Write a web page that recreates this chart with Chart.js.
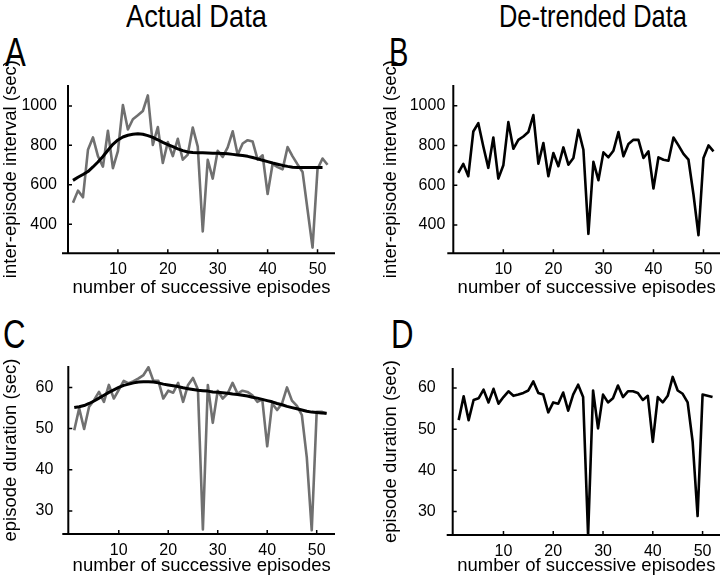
<!DOCTYPE html>
<html><head><meta charset="utf-8">
<script src="https://cdn.jsdelivr.net/npm/chart.js@4/dist/chart.umd.min.js"></script>
<style>
html,body{margin:0;padding:0;background:#fff;width:720px;height:583px;overflow:hidden;position:relative}
canvas{position:absolute}
.t{position:absolute;white-space:nowrap;color:#000;font-family:"Liberation Sans",Arial,sans-serif;line-height:1;transform-origin:left top}
</style></head><body>
<div class="t" style="left:125.5px;top:0px;font-size:32px;transform:scaleX(0.852)">Actual Data</div>
<div class="t" style="left:499px;top:0px;font-size:32px;transform:scaleX(0.794)">De-trended Data</div>
<div class="t" style="left:4.5px;top:31.5px;font-size:41px;transform:scaleX(0.76)">A</div>
<div class="t" style="left:389px;top:31.5px;font-size:41px;transform:scaleX(0.71)">B</div>
<div class="t" style="left:3px;top:313.5px;font-size:41px;transform:scaleX(0.76)">C</div>
<div class="t" style="left:391px;top:313.5px;font-size:41px;transform:scaleX(0.76)">D</div>
<canvas id="cA" width="345" height="265" style="left:0;top:40px"></canvas>
<canvas id="cB" width="340" height="265" style="left:380px;top:40px"></canvas>
<canvas id="cC" width="345" height="263" style="left:0;top:320px"></canvas>
<canvas id="cD" width="340" height="263" style="left:380px;top:320px"></canvas>
<script>
const episodes = [1,2,3,4,5,6,7,8,9,10,11,12,13,14,15,16,17,18,19,20,21,22,23,24,25,26,27,28,29,30,31,32,33,34,35,36,37,38,39,40,41,42,43,44,45,46,47,48,49,50,51,52];
const xTicks = [10,20,30,40,50];
const intervalTicks = [400,600,800,1000];
const durationTicks = [30,40,50,60];
const xTitle = 'number of successive episodes';
const intervalTitle = 'inter-episode interval (sec)';
const durationTitle = 'episode duration (sec)';

const intervalActual = [508,570,536,777,840,745,692,874,684,770,1004,880,932,952,974,1053,802,893,710,817,745,833,727,753,890,793,363,726,631,772,741,789,871,752,809,826,819,727,749,553,706,689,678,791,744,703,665,473,281,680,733,701];
const intervalTrend = [622,638,652,667,690,715,743,775,805,827,842,851,856,859,856,849,840,828,815,804,793,782,773,766,763,762,762,761,760,760,759,757,754,751,748,744,738,731,724,717,710,704,698,693,689,688,687,687,687,687,687];
const intervalDetrended = [662,707,645,870,912,795,687,840,633,700,917,783,828,845,867,953,708,812,645,762,695,790,703,737,878,778,355,717,625,765,740,773,867,745,807,828,828,737,770,583,740,728,723,840,800,757,728,553,348,737,800,770];

const durationActual = [49.6,54.9,49.9,55.3,56.9,58.9,56.5,60.6,57.3,59.4,61.6,61.0,61.5,62.2,63.0,64.9,61.6,61.6,57.3,59.2,58.7,61.1,56.5,60.6,62.3,59.5,25.5,60.6,51.4,59.2,57.3,58.5,61.1,58.5,59.2,58.9,58.1,56.5,57.1,45.7,56.1,54.5,56.1,60.0,56.8,55.5,53.3,43.0,25.3,54.1,54.1,53.6];
const durationTrend = [55.1,55.3,55.6,56.1,56.7,57.4,58.1,58.8,59.4,60.0,60.5,60.8,61.1,61.3,61.4,61.4,61.3,61.1,60.8,60.6,60.4,60.2,59.9,59.7,59.5,59.3,59.2,59.1,58.9,58.8,58.7,58.6,58.4,58.3,58.1,57.9,57.6,57.4,57.1,56.8,56.5,56.1,55.8,55.4,55.1,54.8,54.5,54.2,54.0,53.9,53.8,53.7];
const durationDetrended = [52.2,58.0,52.2,57.1,57.5,59.6,56.5,59.8,56.2,57.8,59.2,58.1,58.4,58.8,59.4,61.6,58.8,58.4,54.1,56.5,56.2,58.9,54.5,58.4,60.8,57.8,24.2,59.4,50.2,58.4,56.5,57.5,60.6,57.8,59.2,59.2,58.8,57.1,58.1,46.9,57.8,56.5,58.1,62.7,59.4,58.6,56.5,47.0,28.9,58.4,58.1,57.8];

Chart.defaults.font.family = '"Liberation Sans", Arial, sans-serif';
Chart.defaults.color = '#000';

const axesPlugin = {
  id: 'axesPlugin',
  afterDatasetsDraw(chart) {
    const {ctx, chartArea: a, scales: {x, y}} = chart;
    ctx.save();
    ctx.strokeStyle = '#000';
    ctx.lineWidth = 2;
    ctx.lineCap = 'butt';
    ctx.beginPath();
    ctx.moveTo(a.left, a.top); ctx.lineTo(a.left, a.bottom + 1);
    ctx.moveTo(a.left - 6, a.bottom); ctx.lineTo(a.right, a.bottom);
    ctx.stroke();
    ctx.lineWidth = 1.5;
    ctx.beginPath();
    x.ticks.forEach(t => { const px = x.getPixelForValue(t.value); ctx.moveTo(px, a.bottom); ctx.lineTo(px, a.bottom - 4); });
    y.ticks.forEach(t => { const py = y.getPixelForValue(t.value); ctx.moveTo(a.left, py); ctx.lineTo(a.left + 4, py); });
    ctx.stroke();
    ctx.restore();
  }
};

function lineSet(values, color, width) {
  return {
    data: values.map((v, i) => ({x: episodes[i], y: v})),
    borderColor: color, borderWidth: width, pointRadius: 0, tension: 0,
    fill: false, borderJoinStyle: 'round'
  };
}

function makeChart(id, sets, o) {
  return new Chart(document.getElementById(id), {
    type: 'line',
    data: {datasets: sets},
    plugins: [axesPlugin],
    options: {
      responsive: false, animation: false, devicePixelRatio: 1,
      layout: {padding: {top: o.padTop, right: o.padRight, left: 0, bottom: 0}},
      plugins: {legend: {display: false}, tooltip: {enabled: false}},
      scales: {
        x: {
          type: 'linear', min: o.xMin, max: o.xMax,
          grid: {display: false, drawTicks: false}, border: {display: false},
          afterBuildTicks: s => { s.ticks = xTicks.map(v => ({value: v})); },
          afterFit: s => { s.height = o.xH; },
          ticks: {font: {size: 16}, padding: 7, maxRotation: 0, autoSkip: false, callback: v => String(v)},
          title: {display: true, text: xTitle, font: {size: 18.5}, padding: {top: 0, bottom: 6}}
        },
        y: {
          type: 'linear', min: o.yMin, max: o.yMax,
          grid: {display: false, drawTicks: false}, border: {display: false},
          afterBuildTicks: s => { s.ticks = o.yTicks.map(v => ({value: v})); },
          afterFit: s => { s.width = o.yW; },
          ticks: {font: {size: 16}, padding: o.yPad, callback: v => String(v)},
          title: {display: true, text: o.yTitle, font: {size: 18.5}, padding: {top: 0, bottom: 0}}
        }
      }
    }
  });
}

const GRAY = '#707070';
makeChart('cA', [lineSet(intervalTrend, '#000', 3), lineSet(intervalActual, GRAY, 2.6)],
  {padTop: 45, padRight: 10, xMin: 0, xMax: 53.5, xH: 51.7, yW: 68, yMin: 252, yMax: 1106, yTicks: intervalTicks, yTitle: intervalTitle, yPad: 11});
makeChart('cB', [lineSet(intervalDetrended, '#000', 2.6)],
  {padTop: 45, padRight: 0, xMin: 0, xMax: 53.3, xH: 51.7, yW: 73.3, yMin: 257, yMax: 1104, yTicks: intervalTicks, yTitle: intervalTitle, yPad: 8});
makeChart('cC', [lineSet(durationTrend, '#000', 3), lineSet(durationActual, GRAY, 2.6)],
  {padTop: 46, padRight: 10, xMin: -0.2, xMax: 53.7, xH: 49, yW: 68.3, yMin: 24.4, yMax: 65.2, yTicks: durationTicks, yTitle: durationTitle, yPad: 15});
makeChart('cD', [lineSet(durationDetrended, '#000', 2.6)],
  {padTop: 48, padRight: 0, xMin: -0.2, xMax: 53.5, xH: 48, yW: 72.7, yMin: 24.3, yMax: 64.86, yTicks: durationTicks, yTitle: durationTitle, yPad: 17});
</script>
</body></html>
